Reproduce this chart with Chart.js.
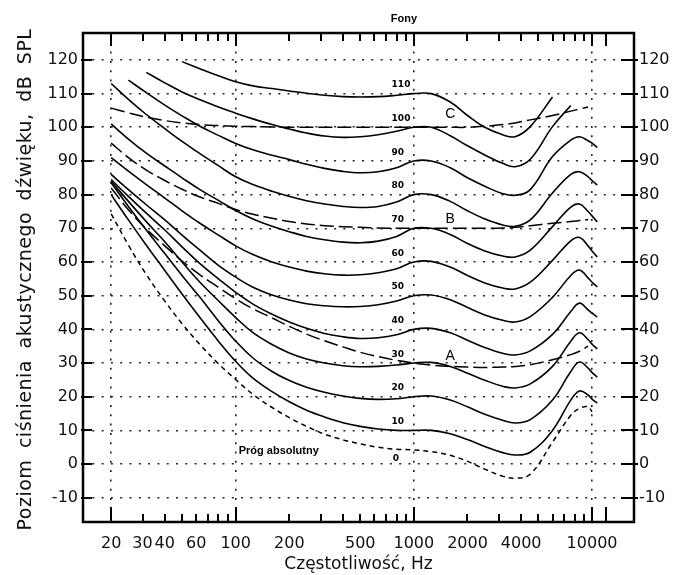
<!DOCTYPE html>
<html>
<head>
<meta charset="utf-8">
<script src="https://cdn.jsdelivr.net/npm/chart.js@4.4.1/dist/chart.umd.min.js"></script>
<style>
  html, body { margin: 0; padding: 0; background: #fff; }
</style>
</head>
<body>
<canvas id="loudness" width="677" height="575"></canvas>
<script>
// frequencies (Hz) shared by every curve
const freqs = [20, 25, 31.5, 40, 50, 63, 80, 100, 125, 160, 200, 250, 315, 400, 500, 630, 800, 1000,
               1250, 1600, 2000, 2500, 3150, 3700, 4500, 6000, 7600, 8500, 9500, 10000, 10700];

// absolute threshold (dashed)
const threshold = [74.3, 65.0, 56.3, 48.4, 41.7, 35.5, 29.8, 25.1, 20.7, 16.8, 13.8, 11.2, 8.9, 7.2, 6.0, 5.0, 4.4, 4.2,
                   3.7, 2.6, 0.8, -1.5, -3.6, -4.2, -3.0, 6.5, 14.5, 16.5, 17.0, 15.5, null];

// equal loudness contours, dB SPL
const phon10 = [80, 72.5, 65, 57.5, 50.5, 43.5, 36.5, 30.5, 25.5, 21.5, 18.5, 16, 14, 12.3, 11.2, 10.4, 10, 10,
                10, 9, 7.3, 5.2, 3.4, 2.7, 3.5, 10, 19, 21.7, 20.5, 19.3, 18.1];
const phon20 = [83.5, 76.5, 69.5, 62.5, 56, 49.5, 42.5, 36.5, 31.5, 27.5, 24.8, 22.8, 21.3, 20.2, 19.5, 19.2, 19.4, 20,
                20.2, 19, 17, 14.8, 13, 12.2, 13.2, 19, 27.5, 30.3, 28.5, 27.2, 25.8];
const phon30 = [84, 78, 72, 66, 60, 54, 48.5, 43.5, 39, 35.5, 33, 31.2, 30, 29.2, 28.9, 29, 29.4, 30,
                30.2, 29, 27, 24.9, 23.1, 22.6, 23.8, 29, 36.5, 39, 37, 35.6, 34.2];
const phon40 = [84.5, 79.5, 74.5, 69.5, 64.5, 59.5, 55, 51, 47.5, 44.5, 42.2, 40.3, 38.8, 37.8, 37.3, 37.5, 38.4, 40,
                40.3, 39, 36.8, 34.6, 32.9, 32.4, 33.6, 38.5, 45.3, 47.8, 45.8, 44.8, 43.7];
const phon50 = [86, 81.5, 77, 72.5, 68, 63.5, 59, 55.5, 52.5, 50.2, 48.7, 47.6, 47, 46.7, 46.8, 47.3, 48.4, 50,
                50.2, 48.8, 46.5, 44.3, 42.7, 42.2, 43.8, 49.5, 56, 57.6, 55.3, 54, 52.6];
const phon60 = [91, 87, 83, 79, 75.2, 71.5, 68, 64.8, 62.2, 60, 58.5, 57.3, 56.5, 56.1, 56.2, 56.8, 58, 60,
                60.2, 58.5, 56, 53.8, 52.3, 52, 54, 60.5, 66.3, 67.3, 64.8, 63.3, 61.5];
const phon70 = [101, 96.5, 92.3, 88.5, 85, 81.5, 78.3, 75.3, 72.8, 70.6, 69, 67.6, 66.6, 65.9, 65.7, 66.2, 67.6, 70,
                70, 68.2, 65.5, 63.3, 61.8, 61.5, 63.5, 70.5, 76.3, 77.2, 75, 73.7, 71.9];
const phon80 = [113, 108.3, 103.8, 99.6, 95.8, 92.2, 88.6, 85.3, 83, 81, 79.5, 78.2, 77.2, 76.5, 76.2, 76.5, 77.8, 80,
                80, 78, 75.2, 72.8, 71, 70.6, 72.5, 80.5, 86, 86.8, 85.3, 84.2, 82.9];
const phon90 = [null, 114, 110.3, 106.6, 103.4, 100.3, 97.6, 95.2, 93.3, 91.7, 90.4, 89, 87.8, 86.9, 86.5, 86.8, 88, 90,
                90, 88, 85, 82.5, 80.3, 79.8, 81.5, 91.3, 96.2, 97.2, 96, 95.3, 94];
const phon100 = [null, null, 116.3, 113.2, 110.5, 108.2, 106, 104.2, 102.5, 100.8, 99.5, 98.3, 97.4, 97, 97.2, 97.8, 98.8, 100,
                 100, 97.5, 94.5, 91.8, 89.3, 88.3, 90.5, 100.2, 106.5, null, null, null, null];
const phon110 = [null, null, null, null, 119.5, 117.4, 115.3, 113.5, 112.3, 111.5, 110.8, 110.1, 109.5, 109.1, 109, 109.1, 109.5, 110,
                 110, 107.5, 103.5, 100, 97.8, 97.2, 100.2, 109, null, null, null, null, null];

// inverted weighting curves A, B, C (long dashes)
const curveA = [82, 75.5, 69.8, 64.8, 60.3, 56.2, 52.5, 49.1, 46.1, 43.4, 40.9, 38.6, 36.6, 34.8, 33.2, 31.9, 30.8, 30,
                29.4, 29, 28.8, 28.7, 28.8, 29, 29.5, 31, 32.5, 33.5, 35, null, null];
const curveB = [95.3, 91, 87.3, 84.2, 81.6, 79.3, 77.4, 75.6, 74.2, 73, 72, 71.3, 70.8, 70.5, 70.3, 70.1, 70, 70,
                70, 70, 70, 70, 70.1, 70.3, 70.8, 71.5, 72, 72.3, 72.6, null, null];
const curveC = [105.7, 104.3, 103, 102, 101.3, 100.8, 100.5, 100.3, 100.2, 100.1, 100, 100, 100, 100, 100, 100, 100, 100,
                100, 100, 100, 100.3, 100.8, 101.3, 102.2, 103.5, 104.8, 105.4, 106, null, null];

const phonCurves = [phon10, phon20, phon30, phon40, phon50, phon60, phon70, phon80, phon90, phon100, phon110];
const phonLabels = ['10', '20', '30', '40', '50', '60', '70', '80', '90', '100', '110'];
const phonLevels = [10, 20, 30, 40, 50, 60, 70, 80, 90, 100, 110];

const xTickLabels = [20, 30, 40, 60, 100, 200, 500, 1000, 2000, 4000, 10000];
const xGridValues = [20, 100, 1000, 10000];
const yTickLabels = [-10, 0, 10, 20, 30, 40, 50, 60, 70, 80, 90, 100, 110, 120];

const FONT = '"DejaVu Sans", Arial, sans-serif';
const yTitle = 'Poziom ciśnienia akustycznego dźwięku, dB SPL';

function toPoints(values) {
    return freqs.map((f, i) => ({ x: f, y: values[i] })).filter(p => p.y !== null);
}

const datasets = [];
phonCurves.forEach((vals, i) => {
    datasets.push({
        label: phonLabels[i] + ' fonów',
        data: toPoints(vals),
        borderColor: '#000',
        borderWidth: 1.6
    });
});
datasets.push({ label: 'Próg absolutny', data: toPoints(threshold), borderColor: '#000', borderWidth: 1.5, borderDash: [5, 4] });
datasets.push({ label: 'A', data: toPoints(curveA), borderColor: '#000', borderWidth: 1.5, borderDash: [14, 5] });
datasets.push({ label: 'B', data: toPoints(curveB), borderColor: '#000', borderWidth: 1.5, borderDash: [14, 5] });
datasets.push({ label: 'C', data: toPoints(curveC), borderColor: '#000', borderWidth: 1.5, borderDash: [14, 5] });

// frame, inward tick marks and all small annotations
const frameAndNotes = {
    id: 'frameAndNotes',
    afterDraw(chart) {
        const { ctx, chartArea: { left, right, top, bottom }, scales: { x, y } } = chart;
        ctx.save();
        ctx.strokeStyle = '#000';

        // x tick marks (top and bottom, pointing inwards)
        const minor = [];
        [10, 100, 1000].forEach(d => { for (let m = 1; m <= 9; m++) minor.push(d * m); });
        minor.push(10000, 12000);
        ctx.lineWidth = 2;
        minor.forEach(v => {
            if (v < 20) return;
            const px = Math.round(x.getPixelForValue(v));
            const major = [20, 100, 1000, 10000, 12000].includes(v);
            const lb = major ? 15 : 8;
            const lt = major ? 13 : 8;
            ctx.beginPath();
            ctx.moveTo(px, bottom); ctx.lineTo(px, bottom - lb);
            ctx.moveTo(px, top); ctx.lineTo(px, top + lt);
            ctx.stroke();
        });

        // y tick marks on both sides
        yTickLabels.forEach(v => {
            const py = Math.round(y.getPixelForValue(v));
            ctx.beginPath();
            ctx.moveTo(left - 2, py); ctx.lineTo(left + 9, py);
            ctx.moveTo(right - 13, py); ctx.lineTo(right + 4, py);
            ctx.stroke();
        });

        // frame
        ctx.lineWidth = 2.5;
        ctx.strokeRect(left, top, right - left, bottom - top);

        ctx.fillStyle = '#000';
        // contour labels
        ctx.font = 'bold 9px ' + FONT;
        ctx.textAlign = 'left';
        ctx.textBaseline = 'middle';
        phonLevels.forEach((lvl, i) => {
            ctx.fillText(phonLabels[i], x.getPixelForValue(750), y.getPixelForValue(lvl + 2.6));
        });
        ctx.fillText('0', x.getPixelForValue(760), y.getPixelForValue(1.6));

        // weighting letters
        ctx.font = '14px "Liberation Sans", Arial, sans-serif';
        ctx.textAlign = 'center';
        ctx.fillText('C', x.getPixelForValue(1600), y.getPixelForValue(103.8));
        ctx.fillText('B', x.getPixelForValue(1600), y.getPixelForValue(72.6));
        ctx.fillText('A', x.getPixelForValue(1600), y.getPixelForValue(32));

        ctx.font = 'bold 11px "Liberation Sans", Arial, sans-serif';
        ctx.textAlign = 'left';
        ctx.fillText('Próg absolutny', x.getPixelForValue(104), y.getPixelForValue(3.9));
        ctx.fillText('Fony', x.getPixelForValue(1000) - 23, top - 14);

        // rotated y title with the wide spacing of the original
        ctx.translate(26, (top + bottom) / 2 + 2);
        ctx.rotate(-Math.PI / 2);
        ctx.font = '19px ' + FONT;
        ctx.fillStyle = '#111';
        ctx.textAlign = 'center';
        ctx.letterSpacing = '0.5px';
        ctx.wordSpacing = '5px';
        ctx.fillText(yTitle, 0, 0);
        ctx.restore();
    }
};

new Chart(document.getElementById('loudness'), {
    type: 'line',
    data: { datasets },
    options: {
        responsive: false,
        animation: false,
        devicePixelRatio: 1,
        layout: { padding: { top: 33, left: 0, right: 0, bottom: 0 } },
        elements: {
            point: { radius: 0 },
            line: { tension: 0.4, fill: false }
        },
        plugins: { legend: { display: false }, tooltip: { enabled: false } },
        scales: {
            x: {
                type: 'logarithmic',
                min: 13.9,
                max: 17200,
                afterBuildTicks: s => { s.ticks = xTickLabels.map(v => ({ value: v })); },
                afterFit: s => { s.height = 53; },
                ticks: {
                    autoSkip: false,
                    maxRotation: 0,
                    padding: 12,
                    color: '#111',
                    font: { family: FONT, size: 16 },
                    callback: v => String(v)
                },
                grid: {
                    drawTicks: false,
                    lineWidth: 1.6,
                    color: c => (c.tick && xGridValues.includes(c.tick.value)) ? '#222' : 'rgba(0,0,0,0)'
                },
                border: { display: false, dash: [2, 7.3] },
                title: {
                    display: true,
                    text: 'Częstotliwość, Hz',
                    color: '#111',
                    font: { family: FONT, size: 17 },
                    padding: { top: 0, bottom: 0 }
                }
            },
            y: {
                position: 'left',
                min: -17.2,
                max: 128,
                afterBuildTicks: s => { s.ticks = yTickLabels.map(v => ({ value: v })); },
                afterFit: s => { s.width = 83; },
                ticks: {
                    padding: 5,
                    color: '#111',
                    font: { family: FONT, size: 16 }
                },
                grid: { drawTicks: false, lineWidth: 1.6, color: '#222' },
                border: { display: false, dash: [2, 7.3] }
            },
            y2: {
                position: 'right',
                min: -17.2,
                max: 128,
                afterBuildTicks: s => { s.ticks = yTickLabels.map(v => ({ value: v })); },
                afterFit: s => { s.width = 43; },
                ticks: {
                    padding: 5,
                    color: '#111',
                    font: { family: FONT, size: 16 }
                },
                grid: { display: false, drawTicks: false },
                border: { display: false }
            }
        }
    },
    plugins: [frameAndNotes]
});
</script>
</body>
</html>
